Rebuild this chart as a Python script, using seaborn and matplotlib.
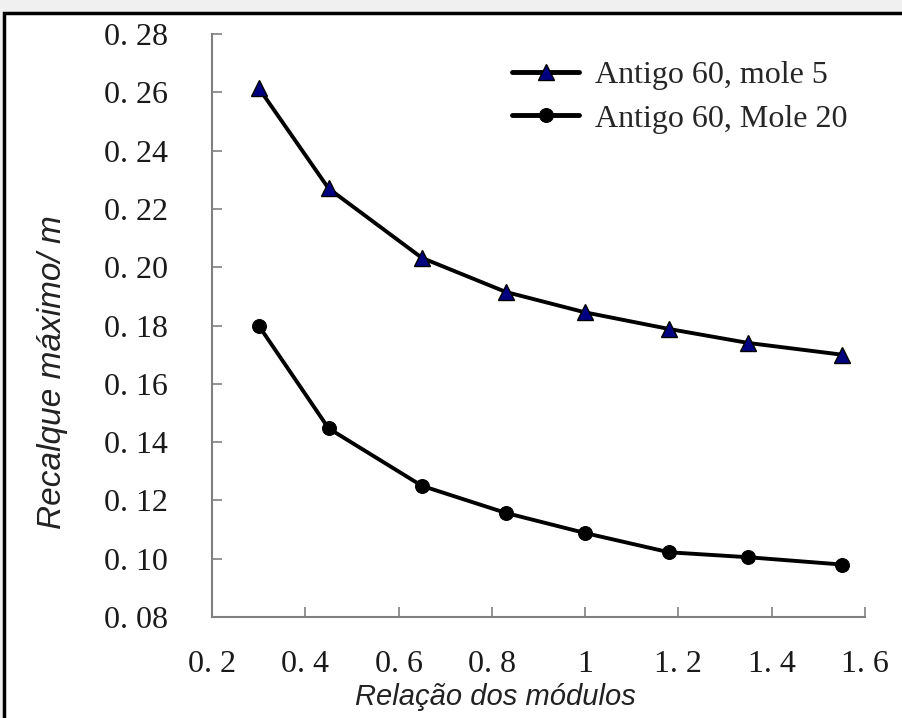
import matplotlib
matplotlib.use("Agg")
import matplotlib.pyplot as plt
import seaborn as sns
import pandas as pd
from matplotlib.patches import Rectangle

ratio = [0.30, 0.45, 0.65, 0.83, 1.00, 1.18, 1.35, 1.55]
mole5 = [0.2615, 0.2270, 0.2032, 0.1915, 0.1845, 0.1788, 0.1740, 0.1700]
mole20 = [0.1800, 0.1447, 0.1250, 0.1157, 0.1088, 0.1022, 0.1005, 0.0980]
series_names = ["Antigo 60, mole 5", "Antigo 60, Mole 20"]
yticks = [0.08, 0.10, 0.12, 0.14, 0.16, 0.18, 0.20, 0.22, 0.24, 0.26, 0.28]
ytick_labels = ["0. 08", "0. 10", "0. 12", "0. 14", "0. 16", "0. 18", "0. 20", "0. 22", "0. 24", "0. 26", "0. 28"]
xticks = [0.2, 0.4, 0.6, 0.8, 1.0, 1.2, 1.4, 1.6]
xtick_labels = ["0. 2", "0. 4", "0. 6", "0. 8", "1", "1. 2", "1. 4", "1. 6"]

df = pd.DataFrame({
    "x": ratio * 2,
    "y": mole5 + mole20,
    "s": [series_names[0]] * len(ratio) + [series_names[1]] * len(ratio),
})

sns.set_theme(style="white")
fig = plt.figure(figsize=(9.03, 7.18), dpi=100)
fig.patch.set_facecolor("#f0f0f0")
fig.patches.append(Rectangle((4 / 903, -0.01), 1.0, 1 - 13 / 718 + 0.01,
                             transform=fig.transFigure, facecolor="white",
                             edgecolor="black", linewidth=2.5, zorder=-5))
ax = fig.add_axes([212 / 903, 1 - 617 / 718, (865 - 212) / 903, (617 - 34) / 718])
ax.set_facecolor("none")
ax.set_zorder(2)

d1 = df[df.s == series_names[0]]
d2 = df[df.s == series_names[1]]
sns.lineplot(data=d1, x="x", y="y", ax=ax, color="black", linewidth=2.8,
             marker="^", markersize=12, markerfacecolor="#000080",
             markeredgecolor="black", markeredgewidth=1.0, label=series_names[0])
sns.lineplot(data=d2, x="x", y="y", ax=ax, color="black", linewidth=2.8,
             marker="o", markersize=10, markerfacecolor="black",
             markeredgecolor="black", label=series_names[1])

ax.set_xlim(0.2, 1.6)
ax.set_ylim(0.08, 0.28)
ax.set_xticks(xticks)
ax.set_xticklabels(xtick_labels)
ax.set_yticks(yticks)
ax.set_yticklabels(ytick_labels)
for s in ["top", "right"]:
    ax.spines[s].set_visible(False)
for s in ["left", "bottom"]:
    ax.spines[s].set_color("#808080")
    ax.spines[s].set_linewidth(1.5)
ax.tick_params(axis="both", direction="in", length=7, width=1.2, color="#808080",
               labelsize=23, labelcolor="#1a1a1a")
ax.tick_params(axis="y", pad=32, left=True)
ax.tick_params(axis="x", pad=24, bottom=True)
for lab in ax.get_xticklabels() + ax.get_yticklabels():
    lab.set_fontfamily("Liberation Serif")

ax.set_xlabel("Relação dos módulos", fontsize=21, style="italic",
              family="Liberation Sans", color="#222222")
ax.xaxis.label.set_va("center")
ax.xaxis.set_label_coords((495 - 212) / 653, (617 - 697) / 583)
ax.set_ylabel("Recalque máximo/ m", fontsize=24, style="italic",
              family="Liberation Sans", color="#222222")
ax.yaxis.label.set_va("center")
ax.yaxis.set_label_coords((52 - 212) / 653, (617 - 372) / 583)

leg = ax.legend(loc="center left", bbox_to_anchor=(512 / 903, 1 - 97 / 718),
                bbox_transform=fig.transFigure, frameon=False,
                borderaxespad=0, borderpad=0,
                prop={"family": "Liberation Serif", "size": 23},
                handlelength=2.1, handletextpad=0.5, labelspacing=0.45)
for h in leg.legend_handles:
    h.set_linewidth(3.5)

fig.savefig("out.png", dpi=100, facecolor=fig.get_facecolor())
